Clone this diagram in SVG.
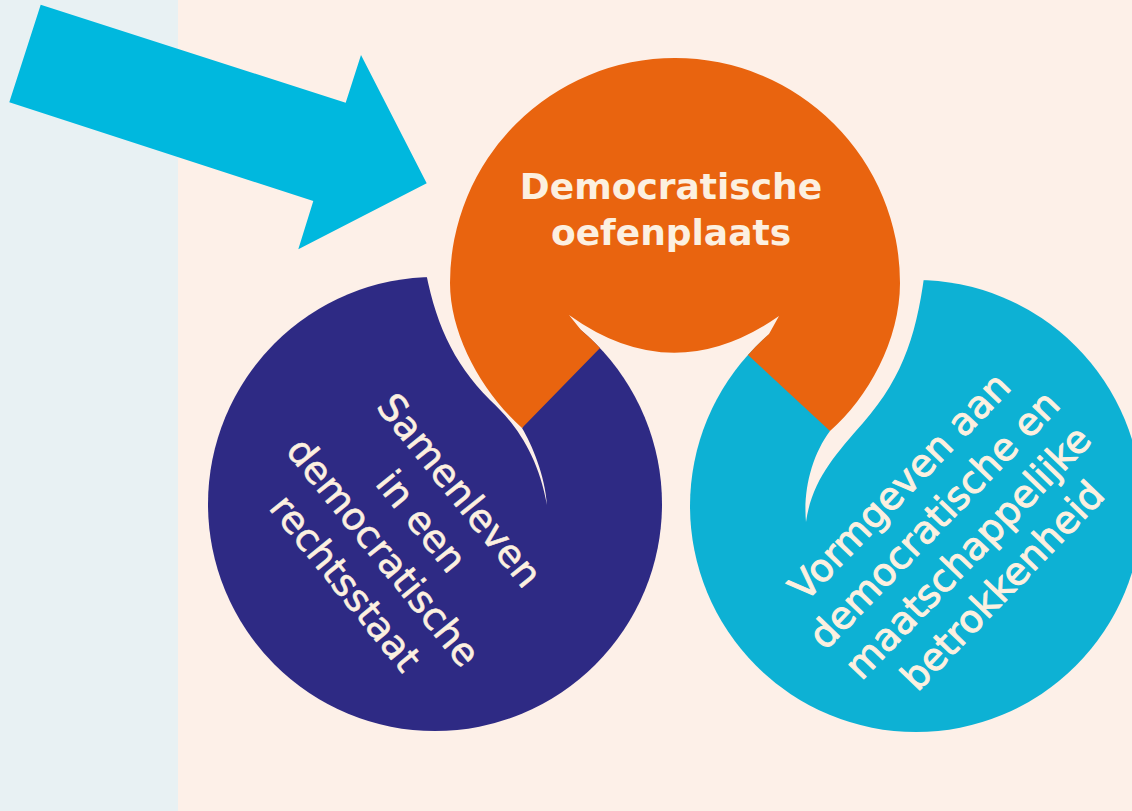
<svg xmlns="http://www.w3.org/2000/svg" width="1132" height="811" viewBox="0 0 1132 811">
<style>
.lbl{font-family:"DejaVu Sans","Liberation Sans",sans-serif;fill:#fcf0e0;text-anchor:middle;stroke:#fcf0e0;stroke-linejoin:round}
.t-or{font-size:36px;font-weight:bold;stroke-width:0}
.t-bl{font-size:38px;stroke-width:0.6px}
.t-cy{font-size:38px;stroke-width:1px}
.sep{fill:#fdf0e8}
</style>
<rect width="1132" height="811" fill="#fdf0e8"/>
<rect id="panel" width="178" height="811" fill="#e8f1f3"/>
<g id="connectors">
<polygon points="40.7,4.7 345.7,102.7 361,55 426.7,183.3 298.3,249.3 313.3,201 9.3,102.3" fill="#00b8de"/>
</g>
<g id="node-blue">
<circle cx="435" cy="504" r="227" fill="#2e2a84"/>
<g transform="translate(402,537) rotate(51)">
<text class="lbl t-bl" x="0" y="-61">Samenleven</text>
<text class="lbl t-bl" x="0" y="-12">in een</text>
<text class="lbl t-bl" x="0" y="37">democratische</text>
<text class="lbl t-bl" x="0" y="86">rechtsstaat</text>
</g>
</g>
<g id="node-cyan">
<circle cx="916" cy="506" r="226" fill="#0db1d4"/>
<g transform="translate(950,535) rotate(-46)">
<text class="lbl t-cy" x="0" y="-57">Vormgeven aan</text>
<text class="lbl t-cy" x="0" y="-9">democratische en</text>
<text class="lbl t-cy" x="0" y="38">maatschappelijke</text>
<text class="lbl t-cy" x="0" y="86">betrokkenheid</text>
</g>
</g>
<g id="node-orange">
<path class="sep" d="M424,262 C434,320 452,362 490,400 C516,424 538,455 547,505 C545,475 532,445 522,428 L540,400 L470,262 Z"/>
<path class="sep" d="M926,262 C918,330 905,375 863,423 C835,455 812,480 806,522 C803,490 812,455 830,431 L822,400 L862,262 Z"/>
<path fill="#e9640f" d="M450,283 A225,225 0 0 1 675,58 A225,225 0 0 1 900,283 C900,340 868,398 830,431 L748,355 A226,226 0 0 1 769,334 L779,316 Q673,390 569,315 L581,330 A227,227 0 0 1 600,348 L522,428 C482,392 450,335 450,283 Z"/>
<text class="lbl t-or" x="671" y="199">Democratische</text>
<text class="lbl t-or" x="671" y="245">oefenplaats</text>
</g>
</svg>
